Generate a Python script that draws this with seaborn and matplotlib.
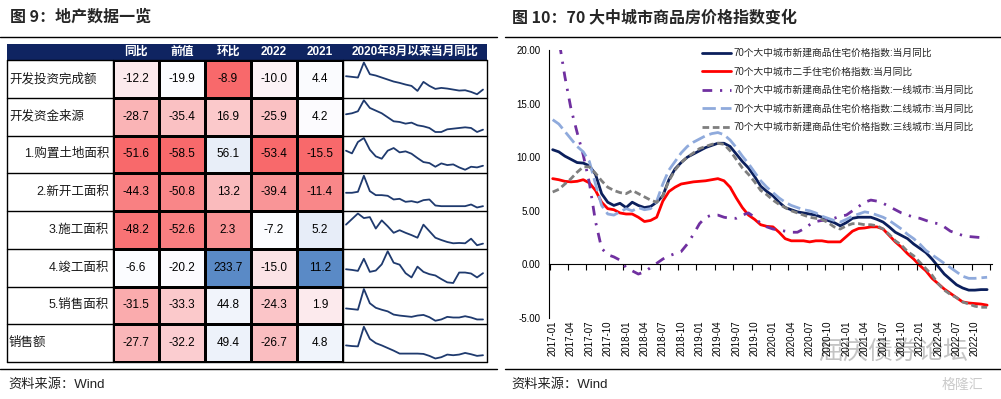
import numpy as np
import pandas as pd
import matplotlib
matplotlib.use('Agg')
import matplotlib.pyplot as plt
from matplotlib.colors import LinearSegmentedColormap
from matplotlib.patches import Rectangle
import seaborn as sns

sns.set_theme(style='white')
plt.rcParams['font.family'] = ['Liberation Sans', 'Noto Sans CJK SC', 'DejaVu Sans']
plt.rcParams['axes.unicode_minus'] = False

#left table data
row_names = ['开发投资完成额', '开发资金来源', '1.购置土地面积', '2.新开工面积',
             '3.施工面积', '4.竣工面积', '5.销售面积', '销售额']
row_align = ['left', 'left', 'right', 'right', 'right', 'right', 'right', 'left']
col_names = ['同比', '前值', '环比', '2022', '2021']
yoy = [-12.2, -28.7, -51.6, -44.3, -48.2, -6.6, -31.5, -27.7]
prev = [-19.9, -35.4, -58.5, -50.8, -52.6, -20.2, -33.3, -32.2]
mom = [-8.9, 16.9, 56.1, 13.2, 2.3, 233.7, 44.8, 49.4]
y2022 = [-10.0, -25.9, -53.4, -39.4, -7.2, -15.0, -24.3, -26.7]
y2021 = [4.4, 4.2, -15.5, -11.4, 5.2, 11.2, 1.9, 4.8]
spark_title = '2020年8月以来当月同比'

#sparklines (2020-08 onwards)
spark_invest = [64, 62, 60, 105, 70, 66, 60, 54, 48, 44, 39, 35, 20, 47, 35, 26, 29, 27, 24, 21, 22, 17, 10, 24]
spark_funds = [63, 66, 72, 105, 82, 74, 66, 54, 42, 40, 35, 38, 30, 27, 22, 10, 10, 18, 20, 22, 24, 22, 10, 17]
spark_land = [65, 57, 91, 103, 68, 48, 41, 65, 73, 60, 63, 56, 43, 31, 28, 17, 27, 22, 24, 15, 8, 17, 15, 20]
spark_newstart = [57, 57, 60, 108, 62, 50, 50, 48, 37, 39, 30, 32, 28, 35, 37, 19, 17, 17, 17, 17, 17, 22, 13, 17]
spark_construct = [73, 90, 107, 93, 96, 61, 86, 68, 48, 56, 48, 41, 33, 73, 53, 33, 26, 20, 16, 17, 16, 30, 10, 15]
spark_complete = [52, 50, 47, 84, 44, 48, 67, 107, 72, 66, 40, 27, 60, 44, 37, 33, 22, 12, 10, 42, 42, 39, 27, 40]
spark_salesarea = [48, 46, 44, 108, 64, 50, 44, 39, 29, 26, 24, 22, 26, 28, 21, 10, 14, 22, 20, 20, 24, 20, 14, 14]
spark_sales = [47, 45, 44, 104, 67, 54, 47, 39, 31, 22, 22, 22, 22, 21, 15, 7, 11, 19, 17, 19, 24, 20, 15, 17]
sparks = [spark_invest, spark_funds, spark_land, spark_newstart,
          spark_construct, spark_complete, spark_salesarea, spark_sales]

#right chart data
months = pd.date_range('2017-01-01', periods=72, freq='MS').strftime('%Y-%m')
tick_labels = list(months[::3])
s_new = [10.7, 10.5, 10.1, 9.8, 9.5, 9.45, 9.2, 8.4, 6.6, 5.8, 5.5, 5.7,
         5.3, 5.8, 5.5, 5.3, 5.4, 5.8, 6.4, 7.9, 8.9, 9.5, 10.0, 10.3,
         10.6, 10.9, 11.1, 11.3, 11.3, 11.0, 10.3, 9.6, 9.0, 8.2, 7.3, 6.8,
         6.4, 5.8, 5.3, 5.1, 4.9, 4.8, 4.7, 4.6, 4.4, 4.1, 3.9, 3.6,
         3.9, 4.3, 4.4, 4.4, 4.4, 4.2, 3.95, 3.5, 3.0, 2.7, 2.4, 1.9,
         1.5, 1.1, 0.5, -0.2, -0.9, -1.4, -1.9, -2.2, -2.4, -2.4, -2.35, -2.35]
s_used = [8.0, 7.9, 7.75, 7.7, 7.75, 7.9, 7.6, 6.9, 5.8, 5.2, 5.1, 4.8,
          4.7, 4.7, 4.4, 4.0, 4.1, 4.4, 5.9, 6.8, 7.2, 7.5, 7.6, 7.7,
          7.75, 7.8, 7.9, 8.0, 7.8, 7.2, 6.2, 5.3, 4.6, 4.2, 3.7, 3.55,
          3.5, 3.0, 2.4, 2.2, 2.2, 2.2, 2.1, 2.2, 2.2, 2.1, 2.1, 2.1,
          2.6, 3.1, 3.35, 3.4, 3.5, 3.5, 3.3, 2.7, 2.1, 1.6, 1.0, 0.5,
          -0.1, -0.6, -1.3, -1.8, -2.3, -2.7, -3.1, -3.5, -3.6, -3.65, -3.7, -3.8]
s_tier1 = [23.0, 21.0, 17.5, 14.5, 12.3, 10.2, 7.6, 4.0, 1.5, 0.9, 0.7, 0.4,
           -0.3, -0.6, -0.9, -0.7, -0.3, 0.1, 0.5, 0.8, 1.0, 1.2, 1.9, 2.8,
           3.8, 4.4, 4.6, 4.6, 4.4, 4.3, 4.3, 4.6, 4.8, 4.4, 3.8, 3.5,
           3.3, 3.2, 3.1, 3.0, 3.0, 3.3, 3.7, 4.0, 4.1, 4.1, 4.3, 4.5,
           4.6, 5.0, 5.4, 5.8, 6.0, 5.9, 5.7, 5.4, 5.1, 4.8, 4.6, 4.4,
           4.3, 4.1, 3.9, 3.8, 3.5, 3.1, 2.9, 2.7, 2.6, 2.55, 2.5, 2.5]
s_tier2 = [13.5, 13.1, 12.4, 11.7, 11.0, 10.5, 9.6, 7.5, 5.5, 4.7, 4.6, 4.9,
           5.2, 5.0, 5.3, 5.1, 5.2, 5.9, 7.5, 8.8, 9.6, 10.4, 11.0, 11.4,
           11.7, 12.0, 12.2, 12.3, 12.1, 11.6, 10.9, 10.1, 9.4, 8.6, 7.8, 7.2,
           6.7, 6.2, 5.8, 5.5, 5.3, 5.1, 5.0, 4.8, 4.5, 4.3, 4.1, 3.95,
           4.2, 4.5, 4.7, 4.9, 4.8, 4.6, 4.4, 4.1, 3.7, 3.3, 2.8, 2.4,
           1.9, 1.3, 0.9, 0.5, 0.1, -0.3, -0.7, -1.1, -1.3, -1.3, -1.25, -1.2]
s_tier3 = [6.75, 7.0, 7.5, 8.0, 8.6, 9.1, 9.1, 8.5, 7.8, 7.2, 6.9, 6.7,
           6.6, 6.9, 6.6, 6.3, 6.0, 5.8, 6.4, 7.8, 8.8, 9.5, 10.0, 10.4,
           10.8, 11.0, 11.2, 11.3, 11.2, 10.6, 9.8, 9.0, 8.4, 7.7, 6.9, 6.5,
           6.0, 5.6, 5.3, 5.0, 4.8, 4.6, 4.4, 4.3, 4.2, 3.9, 3.5, 3.3,
           3.6, 3.8, 3.8, 3.7, 3.7, 3.6, 3.3, 2.8, 2.2, 1.8, 1.2, 0.8,
           0.2, -0.4, -1.0, -1.8, -2.4, -2.8, -3.1, -3.5, -3.7, -3.9, -4.0, -4.0]
series_names = ['70个大中城市新建商品住宅价格指数:当月同比',
                '70个大中城市二手住宅价格指数:当月同比',
                '70个大中城市新建商品住宅价格指数:一线城市:当月同比',
                '70个大中城市新建商品住宅价格指数:二线城市:当月同比',
                '70个大中城市新建商品住宅价格指数:三线城市:当月同比']

navy = '#0F2461'
W, H = 1001, 399


def box(x0, y0, x1, y1):
    return [x0 / W, 1 - y1 / H, (x1 - x0) / W, (y1 - y0) / H]


def col_shade(v):
    # excel style colour scale: all negative -> red..white, else red..white(median)..blue
    v = np.asarray(v, dtype=float)
    lo, hi = v.min(), v.max()
    if hi <= 0:
        return 0.5 * (v - lo) / (hi - lo)
    mid = np.median(v)
    return np.where(v <= mid, 0.5 * (v - lo) / (mid - lo), 0.5 + 0.5 * (v - mid) / (hi - mid))


fig = plt.figure(figsize=(10.01, 3.99), dpi=100)
bg = fig.add_axes([0, 0, 1, 1])
bg.set_xlim(0, W)
bg.set_ylim(H, 0)
bg.axis('off')

#titles, rules, sources
bg.text(10, 17, '图 9：地产数据一览', fontsize=11.5, fontweight='bold', va='center', family=['Noto Sans CJK SC'])
bg.text(512, 17, '图 10：70 大中城市商品房价格指数变化', fontsize=11.5, fontweight='bold', va='center', family=['Noto Sans CJK SC'])
for x0, x1 in [(0, 497), (505, 1001)]:
    bg.plot([x0, x1], [37, 37], color='black', lw=1)
    bg.plot([x0, x1], [369, 369], color='black', lw=1)
bg.text(8, 385, '资料来源：Wind', fontsize=9.5, va='center', color='#222222')
bg.text(511, 385, '资料来源：Wind', fontsize=9.5, va='center', color='#222222')

#table frame
top, row_h = 60, 37.75
bg.add_patch(Rectangle((7, 44), 480, 16, color=navy, lw=0))
col_edges = [113, 159, 205, 251, 297, 343]
for j, name in enumerate(col_names):
    bg.text((col_edges[j] + col_edges[j + 1]) / 2, 52, name, color='white', fontsize=8.5,
            fontweight='bold', ha='center', va='center')
bg.text(415, 52, spark_title, color='white', fontsize=8.5, fontweight='bold', ha='center', va='center')
for i in range(len(row_names) + 1):
    bg.plot([7, 487], [top + i * row_h] * 2, color='black', lw=1)
for x in [7, 113, 343, 487]:
    bg.plot([x, x], [top, top + 8 * row_h], color='black', lw=1)
for i, (name, al) in enumerate(zip(row_names, row_align)):
    yc = top + (i + 0.5) * row_h
    bg.text(9 if al == 'left' else 109, yc, name, fontsize=9, ha=al, va='center', color='#1a1a1a')

#heatmap cells
vals = pd.DataFrame({'同比': yoy, '前值': prev, '环比': mom, '2022': y2022, '2021': y2021}, index=row_names)
shade = vals.apply(col_shade)
cmap = LinearSegmentedColormap.from_list('rwb', ['#F8696B', '#FCFCFF', '#5A8AC6'])
hm = fig.add_axes(box(113, top, 343, top + 8 * row_h))
sns.heatmap(shade, ax=hm, cmap=cmap, vmin=0, vmax=1, annot=vals.values, fmt='.1f', cbar=False,
            linewidths=1, linecolor='black', xticklabels=False, yticklabels=False,
            annot_kws={'color': 'black', 'fontsize': 8.5})

#sparklines
for i, s in enumerate(sparks):
    y0 = top + i * row_h
    sa = fig.add_axes(box(346, y0 + 2.5, 483, y0 + row_h - 3.5))
    sns.lineplot(x=np.arange(len(s)), y=s, ax=sa, color='#1F3A6E', lw=1.3, clip_on=False)
    sa.set_xlim(0, len(s) - 1)
    sa.set_ylim(min(s), max(s))
    sa.axis('off')

#right chart
long = pd.DataFrame({'idx': np.tile(np.arange(72), 5),
                     'value': s_new + s_used + s_tier1 + s_tier2 + s_tier3,
                     'series': np.repeat(series_names, 72)})
pal = dict(zip(series_names, ['#0B1F5C', '#FF0000', '#7030A0', '#8FAADC', '#7F7F7F']))
dash_map = dict(zip(series_names, ['', '', (3.5, 2.8, 0.8, 2.8), (4.8, 1.8), (2.4, 1.3)]))
ax = fig.add_axes(box(549, 50, 992, 318))
sns.lineplot(data=long, x='idx', y='value', hue='series', style='series', hue_order=series_names,
             style_order=series_names, palette=pal, dashes=dash_map, lw=2, ax=ax)
ax.set_xlim(-0.6, 71.8)
ax.set_ylim(-5, 20)
ax.set_xlabel('')
ax.set_ylabel('')
for sp in ['top', 'right']:
    ax.spines[sp].set_visible(False)
ax.spines['left'].set_color('black')
ax.spines['left'].set_linewidth(0.8)
ax.spines['bottom'].set_position(('data', 0))
ax.spines['bottom'].set_color('black')
ax.spines['bottom'].set_linewidth(0.8)
ax.set_xticks([])
ax.set_xticks(np.arange(-0.5, 72, 3), minor=True)
ax.tick_params(axis='x', which='minor', bottom=True, length=4, width=0.8, color='black', direction='out')
ax.set_yticks(range(-5, 21, 5))
ax.yaxis.set_major_formatter('{x:.2f}')
ax.tick_params(axis='y', labelsize=7, length=0, pad=6, labelcolor='black')
sec = ax.secondary_xaxis('bottom')
sec.set_xticks(np.arange(0, 72, 3), labels=tick_labels)
sec.tick_params(length=0, labelsize=7, rotation=90, pad=2, labelcolor='black')
sec.spines['bottom'].set_visible(False)

h, l = ax.get_legend_handles_labels()
ax.legend(h, l, loc='upper left', bbox_to_anchor=(702 / W, 1 - 48 / H), bbox_transform=fig.transFigure,
          frameon=False, fontsize=7, handlelength=3.0, handletextpad=0.2, labelspacing=0.88,
          borderpad=0, borderaxespad=0)

#watermark
bg.text(893, 352, '屈庆债券论坛', fontsize=18, color='#8a8a8a', alpha=0.5, ha='center', va='center')
bg.text(962, 385, '格隆汇', fontsize=10, color='#b5b5b5', alpha=0.7, ha='center', va='center')

fig.savefig('out.png', dpi=100)
